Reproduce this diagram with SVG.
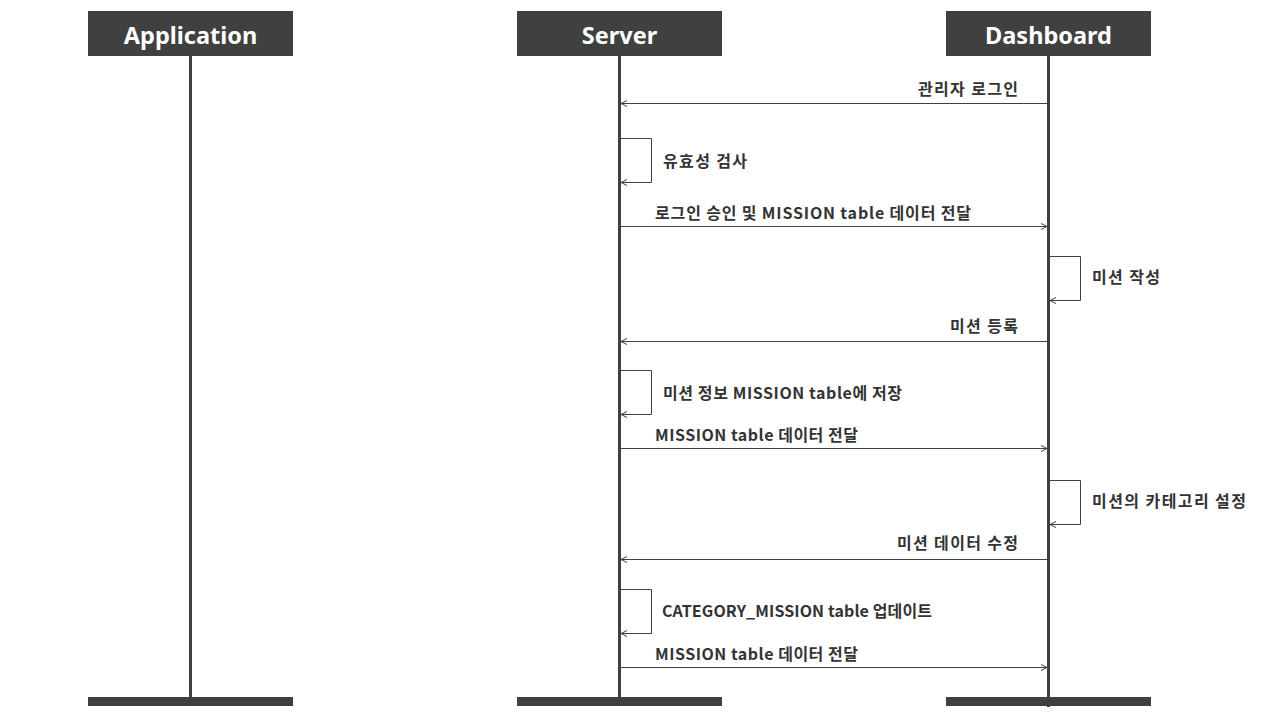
<svg xmlns="http://www.w3.org/2000/svg" width="1280" height="720" viewBox="0 0 1280 720">
<defs>
<style>
.hdr{fill:#404040}
.hdrt{fill:#ffffff;font-family:"Noto Sans","Noto Sans CJK KR",sans-serif;font-weight:bold;font-size:23.5px;text-anchor:middle;dominant-baseline:central}
.life{stroke:#404040;stroke-width:3;fill:none}
.msg{stroke:#404040;stroke-width:1;fill:none;marker-end:url(#arr)}
.lbl{fill:#333333;font-family:"Noto Sans CJK KR","Noto Sans",sans-serif;font-weight:bold;font-size:16px;dominant-baseline:central}
.r{text-anchor:end}
</style>
<marker id="arr" viewBox="0 0 8 8" refX="7" refY="4" markerWidth="8" markerHeight="8" markerUnits="userSpaceOnUse" orient="auto">
<path d="M1,1 L7,4 L1,7" fill="none" stroke="#404040" stroke-width="1"/>
</marker>
</defs>
<rect width="1280" height="720" fill="#ffffff"/>
<g id="application">
<rect class="hdr" x="88" y="11" width="205" height="45"/>
<text class="hdrt" x="190.5" y="35">Application</text>
<line class="life" x1="190.5" y1="56" x2="190.5" y2="697"/>
<rect class="hdr" x="88" y="697" width="205" height="9"/>
</g>
<g id="server">
<rect class="hdr" x="517" y="11" width="205" height="45"/>
<text class="hdrt" x="619.5" y="35">Server</text>
<line class="life" x1="619.5" y1="56" x2="619.5" y2="697"/>
<rect class="hdr" x="517" y="697" width="205" height="9"/>
</g>
<g id="dashboard">
<rect class="hdr" x="946" y="11" width="205" height="45"/>
<text class="hdrt" x="1048.5" y="35">Dashboard</text>
<line class="life" x1="1048.5" y1="56" x2="1048.5" y2="707"/>
<rect class="hdr" x="946" y="697" width="205" height="9"/>
</g>
<g id="connectors">
<line class="msg" x1="1047" y1="103.5" x2="621" y2="103.5"/>
<path class="msg" d="M621,138.5 H651.5 V182.5 H621"/>
<line class="msg" x1="621" y1="226.5" x2="1047" y2="226.5"/>
<path class="msg" d="M1050,256.5 H1080.5 V300.5 H1050"/>
<line class="msg" x1="1047" y1="341.5" x2="621" y2="341.5"/>
<path class="msg" d="M621,370.5 H651.5 V414.5 H621"/>
<line class="msg" x1="621" y1="448.5" x2="1047" y2="448.5"/>
<path class="msg" d="M1050,480.5 H1080.5 V524.5 H1050"/>
<line class="msg" x1="1047" y1="559.5" x2="621" y2="559.5"/>
<path class="msg" d="M621,589.5 H651.5 V633.5 H621"/>
<line class="msg" x1="621" y1="667.5" x2="1047" y2="667.5"/>
</g>
<g id="labels">
<text class="lbl" x="918" y="88" textLength="100" lengthAdjust="spacing">관리자 로그인</text>
<text class="lbl" x="663" y="160" textLength="84" lengthAdjust="spacing">유효성 검사</text>
<text class="lbl" x="655" y="212" textLength="316" lengthAdjust="spacing">로그인 승인 및 MISSION table 데이터 전달</text>
<text class="lbl" x="1092" y="276" textLength="68" lengthAdjust="spacing">미션 작성</text>
<text class="lbl" x="950" y="325" textLength="68" lengthAdjust="spacing">미션 등록</text>
<text class="lbl" x="663" y="392" textLength="239" lengthAdjust="spacing">미션 정보 MISSION table에 저장</text>
<text class="lbl" x="655" y="434" textLength="203" lengthAdjust="spacing">MISSION table 데이터 전달</text>
<text class="lbl" x="1092" y="500" textLength="154" lengthAdjust="spacing">미션의 카테고리 설정</text>
<text class="lbl" x="897" y="542" textLength="121" lengthAdjust="spacing">미션 데이터 수정</text>
<text class="lbl" x="662" y="610" textLength="270" lengthAdjust="spacing">CATEGORY_MISSION table 업데이트</text>
<text class="lbl" x="655" y="653" textLength="203" lengthAdjust="spacing">MISSION table 데이터 전달</text>
</g>
</svg>
